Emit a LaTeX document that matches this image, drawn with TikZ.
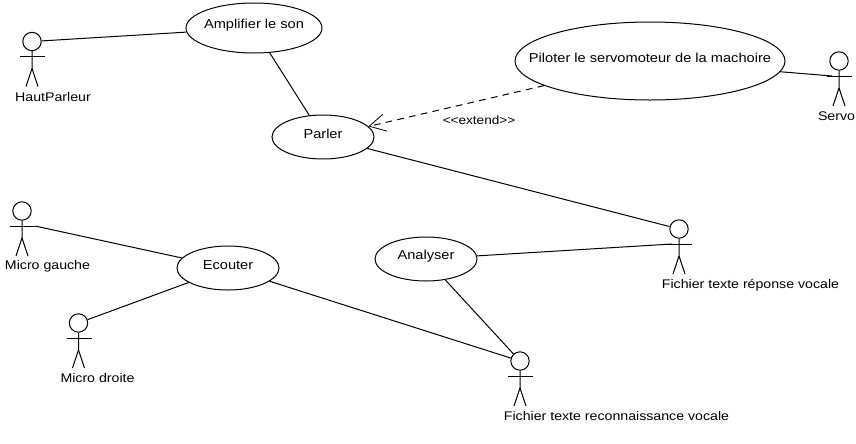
\documentclass[tikz,border=0pt]{standalone}
\usepackage{fontspec}
\setmainfont[FakeStretch=1.13]{Liberation Sans}
\usetikzlibrary{shapes.geometric,arrows.meta}
\tikzset{
  txt/.style={inner sep=0pt,font=\fontsize{9.4pt}{11pt}\selectfont},
  usecase/.style={ellipse,draw,inner sep=0pt,label={[inner sep=0pt,yshift=2.2pt,font=\fontsize{9.7pt}{11pt}\selectfont]center:#1}},
  small/.style={inner sep=0pt,font=\fontsize{9pt}{10pt}\selectfont},
  actor/.pic={
    \node [circle,draw,inner sep=0pt,minimum size=13.8pt] (-head) at (0,0) {};
    \coordinate (-arm) at (-7,15);
    \coordinate (-right) at (13,15);
    \draw (-head) -- (0,27) -- (-6,45);
    \draw (0,27) -- (6,45);
    \draw (-12,15) -- (-right);
  }
}
\begin{document}
\begin{tikzpicture}[x=0.75pt,y=-0.75pt,line width=0.75pt]
\useasboundingbox (0,0) rectangle (856,443);
% use cases
\node [usecase={Amplifier le son},minimum width=102pt,minimum height=37.5pt] (amplifier) at (254,28) {};
\node [usecase={Parler},minimum width=76.5pt,minimum height=33pt] (parler) at (323,137) {};
\node [usecase={Piloter le servomoteur de la machoire},minimum width=202.5pt,minimum height=58.5pt] (piloter) at (650,61) {};
\node [usecase={Ecouter},minimum width=76.5pt,minimum height=33pt] (ecouter) at (228,268) {};
\node [usecase={Analyser},minimum width=76.5pt,minimum height=33pt] (analyser) at (426,259) {};
% actors
\pic (hp) at (32,41.5) {actor};
\pic (servo) at (839,61) {actor};
\pic (gauche) at (22,211) {actor};
\pic (droite) at (78.5,323) {actor};
\pic (reponse) at (679,229) {actor};
\pic (reco) at (520,361) {actor};
\node [txt] (hp-label) at (53,97) {HautParleur};
\node [txt,anchor=east] (servo-label) at (855.5,116) {Servo};
\node [txt] (gauche-label) at (47.5,266) {Micro gauche};
\node [txt] (droite-label) at (97.5,378) {Micro droite};
\node [txt] (reponse-label) at (750.5,285) {Fichier texte réponse vocale};
\node [txt] (reco-label) at (616.5,416) {Fichier texte reconnaissance vocale};
% links
\draw (hp-head) -- (amplifier);
\draw (amplifier) -- (parler);
\draw (parler) -- (reponse-head);
\draw (piloter) -- (servo-arm);
\draw (gauche-right) -- (ecouter);
\draw (droite-head) -- (ecouter);
\draw (ecouter) -- (reco-head);
\draw (analyser) -- (reponse-arm);
\draw (analyser) -- (reco-head);
\draw [dashed,dash pattern=on 5pt off 4pt,-{Straight Barb[length=12pt,width=13pt,line width=0.6pt]}] (piloter) -- (parler);
\node [small] (extend) at (479,120) {<{}<extend>{}>};
\end{tikzpicture}
\end{document}
